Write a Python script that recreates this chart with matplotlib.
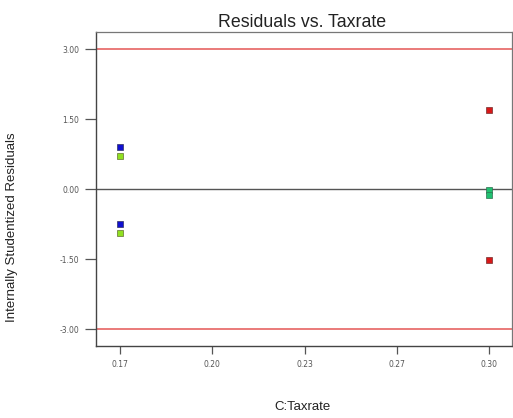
import matplotlib
matplotlib.use("Agg")
import matplotlib.pyplot as plt

# Data
x_blue = [0.17, 0.17]
y_blue = [0.91, -0.75]
x_green = [0.17, 0.17]
y_green = [0.71, -0.94]
x_red = [0.30, 0.30]
y_red = [1.69, -1.52]
x_teal = [0.30, 0.30]
y_teal = [-0.02, -0.13]

x_ticks = [0.17, 0.2025, 0.235, 0.2675, 0.30]
x_tick_labels = ["0.17", "0.20", "0.23", "0.27", "0.30"]
y_ticks = [-3.0, -1.5, 0.0, 1.5, 3.0]
y_tick_labels = ["-3.00", "-1.50", "0.00", "1.50", "3.00"]
limit_lines = [3.0, -3.0]

fig = plt.figure(figsize=(5.13, 4.18), dpi=100)
ax = fig.add_axes([0.187, 0.172, 0.811, 0.751])

ax.axhline(0, color="#555555", lw=1.0, zorder=1)
for v in limit_lines:
    ax.axhline(v, color="#e8706e", lw=1.3, zorder=1)

ms = 5
ax.plot(x_blue, y_blue, "s", ms=ms, mfc="#1010d0", mec="#303060", mew=0.5, zorder=3)
ax.plot(x_green, y_green, "s", ms=ms, mfc="#90e020", mec="#607030", mew=0.5, zorder=3)
ax.plot(x_red, y_red, "s", ms=ms, mfc="#d81818", mec="#703030", mew=0.5, zorder=3)
ax.plot(x_teal, y_teal, "s", ms=ms, mfc="#20c070", mec="#307050", mew=0.5, zorder=3)

ax.set_xlim(0.1615, 0.3081)
ax.set_ylim(-3.364, 3.364)
ax.set_xticks(x_ticks)
ax.set_xticklabels(x_tick_labels)
ax.set_yticks(y_ticks)
ax.set_yticklabels(y_tick_labels)
ax.tick_params(axis="both", labelsize=5.5, labelcolor="#555555", color="#555555",
               width=0.9, direction="out")
ax.tick_params(axis="x", pad=4, length=6)
ax.tick_params(axis="y", pad=4, length=8)

for s in ["left", "bottom"]:
    ax.spines[s].set_color("#444444")
    ax.spines[s].set_linewidth(1.0)
for s in ["top", "right"]:
    ax.spines[s].set_color("#777777")
    ax.spines[s].set_linewidth(0.9)

fig.text(0.589, 0.947, "Residuals vs. Taxrate", ha="center", va="center", fontsize=12.8,
         family="Liberation Sans", color="#222222")
fig.text(0.589, 0.026, "C:Taxrate", ha="center", va="center", fontsize=9.5,
         family="Liberation Sans", color="#222222")
fig.text(0.023, 0.456, "Internally Studentized Residuals", ha="center", va="center",
         rotation=90, fontsize=9.5, family="Liberation Sans", color="#222222")

fig.savefig("out.png", dpi=100)
